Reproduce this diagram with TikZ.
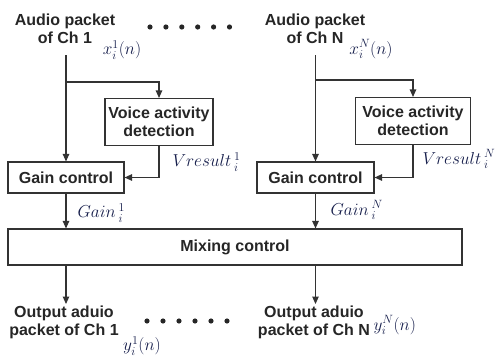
\documentclass[tikz,border=0pt]{standalone}
\usepackage{fontspec}
\setmainfont{Liberation Sans}
\usetikzlibrary{arrows.meta}
\definecolor{mathblue}{RGB}{22,30,75}

\begin{document}
\begin{tikzpicture}[x=1pt,y=-1pt,line width=1.1pt,draw=black!80,>={Triangle[length=7.5pt,width=6.5pt]},
  box/.style={draw,align=center,font=\fontsize{16}{18}\selectfont\bfseries,text=black!85,inner sep=0pt},
  txt/.style={align=center,font=\fontsize{16}{18}\selectfont\bfseries,text=black!85,inner sep=0pt,outer sep=2pt},
  lab/.style={text=mathblue,font=\fontsize{18}{20}\selectfont,inner sep=0pt}]
\useasboundingbox (0,0) rectangle (504,356);
% channel 1
\node[txt] (in1) at (65,29) {Audio packet\\of Ch 1};
\node[lab] (x1) at (122,50) {$x_i^1(n)$};
\node[box,minimum width=108,minimum height=47] (vad1) at (159,122) {Voice activity\\detection};
\node[box,minimum width=116,minimum height=31] (gain1) at (66,177.5) {Gain control};
\node[lab,anchor=west] (vr1) at (172,162) {$Vresult\,{}_i^1$};
\node[lab,anchor=west] (g1) at (77,213) {$Gain\,{}_i^1$};
\coordinate (top1) at (66,55);
\coordinate (br1) at (66,82);
% channel N
\node[txt] (inN) at (315,29) {Audio packet\\of Ch N};
\node[lab] (xN) at (371,49) {$x_i^N(n)$};
\node[box,minimum width=115,minimum height=47] (vadN) at (413,121) {Voice activity\\detection};
\node[box,minimum width=117,minimum height=31] (gainN) at (315.5,177.5) {Gain control};
\node[lab,anchor=west] (vrN) at (422,159) {$Vresult\,{}_i^N$};
\node[lab,anchor=west] (gN) at (330,210) {$Gain\,{}_i^N$};
\coordinate (topN) at (315.5,55);
\coordinate (brN) at (315.5,80);
% mixer and outputs
\node[box,minimum width=454,minimum height=36] (mix) at (235,247) {Mixing control};
\node[txt,anchor=north] (out1) at (64,304) {Output aduio\\packet of Ch 1};
\node[txt,anchor=north] (outN) at (314,304) {Output aduio\\packet of Ch N};
\node[lab] (y1) at (142,346) {$y_i^1(n)$};
\node[lab,anchor=west] (yN) at (373,325) {$y_i^N(n)$};
\foreach \i in {0,...,5} {\fill[black!85] (150+15.9*\i,27) circle (2.6);
  \fill[black!85] (147+16*\i,321) circle (2.6);}
\draw[->] (top1)--(gain1.north);\draw[->] (br1)-|(vad1.north);
\draw[->] (vad1.south)|-(gain1.east);\draw[->] (gain1.south)--(gain1.south|-mix.north);
\draw[->] (gain1.south|-mix.south)--(gain1.south|-out1.north);
\draw[->] (topN)--(gainN.north);\draw[->] (brN)-|(vadN.north);
\draw[->] (vadN.south)|-(gainN.east);\draw[->] (gainN.south)--(gainN.south|-mix.north);
\draw[->] (gainN.south|-mix.south)--(gainN.south|-outN.north);
\end{tikzpicture}
\end{document}
